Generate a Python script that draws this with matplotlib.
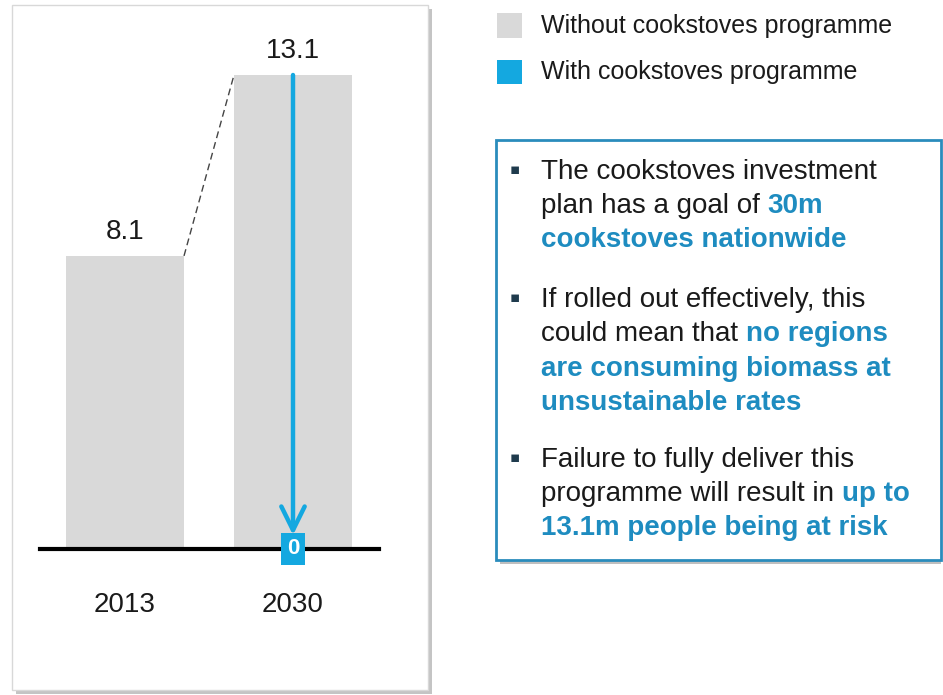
import matplotlib
matplotlib.use("Agg")
import matplotlib.pyplot as plt
from matplotlib.patches import Rectangle

plt.rcParams['font.family'] = ['Liberation Sans', 'DejaVu Sans']

# ---- data ----
categories = ['2013', '2030']
without_programme = [8.1, 13.1]
with_programme_2030 = 0
legend_labels = ['Without cookstoves programme', 'With cookstoves programme']

GRAY = '#d9d9d9'
BLUE = '#14a8e0'
TEAL = '#1e8cc0'

W, H = 943, 695
fig = plt.figure(figsize=(W / 100, H / 100), dpi=100)
fig.patch.set_facecolor('white')


def fx(px):
    return px / W


def fy(py):
    return 1 - py / H


# ---- left panel frame with shadow ----
fig.patches.append(Rectangle((fx(16), fy(694)), fx(416), 685 / H, transform=fig.transFigure,
                             facecolor='#c4c4c4', edgecolor='none', zorder=-2))
fig.patches.append(Rectangle((fx(12), fy(690)), fx(416), 685 / H, transform=fig.transFigure,
                             facecolor='white', edgecolor='#d8d8d8', lw=1, zorder=-1))

# ---- chart axes ----
ax = fig.add_axes([fx(40), fy(549), fx(339), 474 / H])
ax.set_facecolor('none')
ax.set_zorder(1)
unit = 168.0
xmin = -85 / unit
ax.set_xlim(xmin, xmin + 339 / unit)
ax.set_ylim(0, without_programme[1])
ax.axis('off')

x = list(range(len(categories)))
bw = 118 / unit
ax.bar(x, without_programme, width=bw, color=GRAY, zorder=1)
ax.axhline(0, color='black', lw=3, zorder=3, clip_on=False)

for xi, v, c in zip(x, without_programme, categories):
    ax.annotate(f'{v:.1f}', (xi, v), xytext=(0, 8), textcoords='offset points',
                ha='center', va='bottom', fontsize=20, color='#1a1a1a')
    ax.annotate(c, (xi, 0), xytext=(0, -40), textcoords='offset points',
                ha='center', va='center', fontsize=20, color='#1a1a1a', annotation_clip=False)

# dashed connector
ax.plot([x[0] + bw / 2, x[1] - bw / 2], [without_programme[0], without_programme[1]],
        ls=(0, (5, 3)), color='#444444', lw=1, zorder=2)

# arrow from without to with
ax.annotate('', xy=(x[1], with_programme_2030), xytext=(x[1], without_programme[1]),
            xycoords='data',
            arrowprops=dict(arrowstyle='->,head_length=0.85,head_width=0.42', color=BLUE, lw=3.2,
                            shrinkA=0, shrinkB=10, mutation_scale=20),
            zorder=4)
ax.text(x[1], with_programme_2030, f'{with_programme_2030}', ha='center', va='center',
        fontsize=16, fontweight='bold', color='white', zorder=5,
        bbox=dict(boxstyle='square,pad=0.24', facecolor=BLUE, edgecolor='none'))

# ---- legend ----
fig.patches.append(Rectangle((fx(497), fy(38)), fx(25), 25 / H, transform=fig.transFigure,
                             facecolor=GRAY, edgecolor='none'))
fig.patches.append(Rectangle((fx(497), fy(84)), fx(25), 24 / H, transform=fig.transFigure,
                             facecolor=BLUE, edgecolor='none'))
fig.text(fx(541), fy(26), legend_labels[0], fontsize=18, va='center', ha='left', color='#1a1a1a')
fig.text(fx(541), fy(72), legend_labels[1], fontsize=18, va='center', ha='left', color='#1a1a1a')

# ---- text box ----
fig.patches.append(Rectangle((fx(500), fy(564)), fx(441), 420 / H, transform=fig.transFigure,
                             facecolor='#bfbfbf', edgecolor='none', zorder=-2))
fig.patches.append(Rectangle((fx(496), fy(560)), fx(445), 420 / H, transform=fig.transFigure,
                             facecolor='white', edgecolor='#2a8cbc', lw=2, zorder=-1))

lines = [
    (172, True, [("The cookstoves investment", False)]),
    (206, False, [("plan has a goal of ", False), ("30m", True)]),
    (240, False, [("cookstoves nationwide", True)]),
    (300, True, [("If rolled out effectively, this", False)]),
    (334, False, [("could mean that ", False), ("no regions", True)]),
    (369, False, [("are consuming biomass at", True)]),
    (403, False, [("unsustainable rates", True)]),
    (460, True, [("Failure to fully deliver this", False)]),
    (494, False, [("programme will result in ", False), ("up to", True)]),
    (528, False, [("13.1m people being at risk", True)]),
]

renderer = fig.canvas.get_renderer()
FS = 20
for py, bullet, segs in lines:
    if bullet:
        fig.text(fx(510), fy(py - 2), '\u25aa', fontsize=11, va='center', ha='left',
                 color='#1f3b4d', family=['DejaVu Sans'])
    xpos = 541
    for s, blue in segs:
        t = fig.text(fx(xpos), fy(py), s, fontsize=FS, va='center', ha='left',
                     color=TEAL if blue else '#1a1a1a',
                     fontweight='bold' if blue else 'normal')
        bb = t.get_window_extent(renderer)
        xpos += bb.width

fig.savefig('out.png', dpi=100, facecolor='white')
